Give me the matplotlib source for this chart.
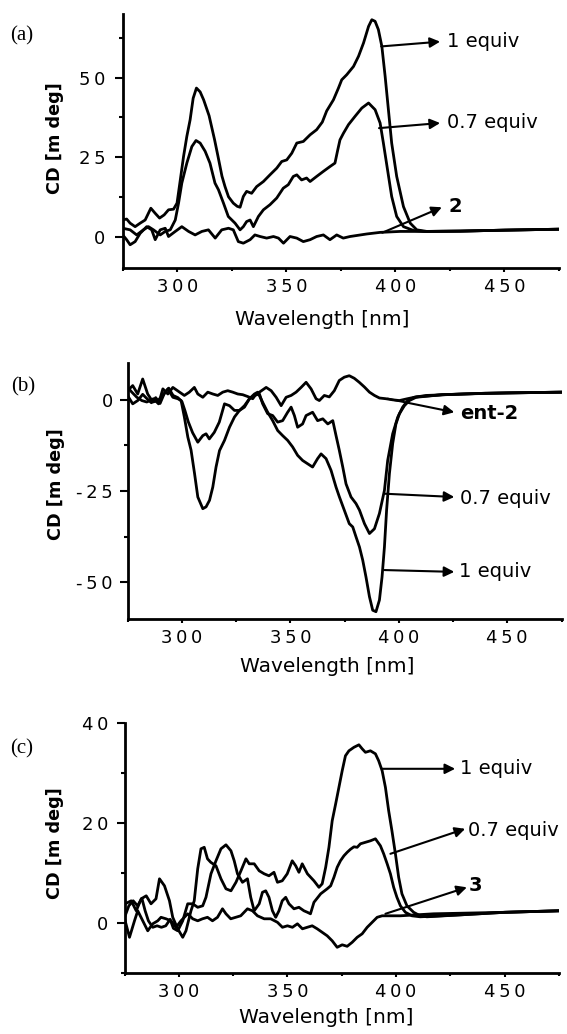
import numpy as np
import matplotlib
matplotlib.use("Agg")
import matplotlib.pyplot as plt
from matplotlib.ticker import MultipleLocator, FuncFormatter

# ---------------- data (wavelength nm, CD mdeg) ----------------
A_1EQ = [(275, 5.2), (276.8, 5.5), (278.4, 4.2), (280.7, 3.1), (283, 4.2), (285.3, 5.2), (287.9, 8.9),
         (289.9, 7.3), (291.9, 5.8), (294, 6.8), (296, 8.4), (298.3, 8.6), (299.9, 10.5), (301.4, 17.8),
         (302.9, 25.2), (304.4, 31.5), (305.9, 36.7), (307.3, 43.5), (308.8, 46.7), (310.5, 45.5),
         (312.1, 43), (314.6, 38), (317.1, 30.5), (318.6, 25.5), (320.5, 19), (321.9, 15.7), (323.5, 12.5),
         (325.7, 10.5), (327.5, 9.5), (328.8, 9.2), (330.3, 12.6), (331.8, 14.2), (334.1, 13.6),
         (336.4, 15.7), (339.5, 17.3), (342.5, 19.4), (345.6, 21.5), (347.9, 23.6), (350.2, 24.1),
         (352.5, 26.2), (354.8, 29.4), (357.8, 29.9), (360.9, 32), (363.9, 33.6), (366.5, 36),
         (368.5, 39.5), (371.6, 43), (373.9, 46.7), (375.4, 49.3), (377.7, 50.9), (380.8, 53.5),
         (383.1, 56.7), (385.4, 60.9), (387.7, 66.1), (389.2, 68.2), (390.7, 67.7), (392.2, 65.1),
         (393.8, 59.8), (395.3, 50.4), (396.8, 39.9), (398.3, 29.4), (400.6, 18.9), (403.7, 9.4),
         (406.8, 4.2), (409.8, 2.1), (414.4, 1.6), (430, 1.7), (450, 2.0), (475, 2.3)]

A_07EQ = [(275, 2.6), (278.4, 2.1), (281.4, 0.5), (284.5, 2.1), (286.8, 3.1), (289.1, 2.1), (292.2, 0.5),
          (294.5, 1.6), (296.8, 2.1), (299.1, 5.2), (300.6, 10.5), (302.1, 16.8), (304.4, 23.1),
          (306.7, 28.3), (308.6, 30.2), (310.5, 29.4), (312.8, 26.8), (315, 23.1), (317.3, 16.8),
          (318.9, 14.7), (321.2, 10.5), (323.4, 6.3), (326.5, 4.2), (328.8, 2.1), (330.3, 3.1),
          (331.8, 4.7), (333.4, 5.2), (334.9, 3.1), (337.2, 6.3), (339.5, 8.4), (342.5, 10), (345.6, 12.1),
          (348.6, 15.2), (350.9, 16.3), (353.2, 18.9), (354.8, 19.4), (357, 17.8), (359.3, 18.4),
          (360.9, 17.3), (363.9, 18.9), (367, 20.5), (370, 22), (372.3, 23.1), (373.5, 27), (374.6, 30.4),
          (376.2, 32.5), (378.5, 35.2), (381.5, 37.8), (384.6, 40.4), (387.7, 42), (390.7, 39.9),
          (393, 35.7), (394.5, 29.4), (396.4, 21), (398.3, 12.6), (400.6, 6.3), (403.7, 3.1), (408.3, 1.9),
          (412.9, 1.6), (430, 1.7), (450, 2.0), (475, 2.3)]

A_2 = [(275, 0.5), (276.8, -1), (278.4, -2.6), (280.7, -1.6), (283, 1), (286, 3.1), (288.3, 2.1),
       (289.9, -1), (292.2, 2.1), (294.5, 2.6), (296, 0), (299.1, 1.6), (302.1, 3.1), (305.2, 1.6),
       (308.2, 0.5), (311.3, 1.6), (314.3, 2.1), (317.4, -0.5), (320.4, 2.1), (323.5, 2.6), (325.7, 2.1),
       (328, -1.6), (330.3, -2.1), (333.4, -1), (335.6, 0.5), (338, 0), (341, -0.5), (344.1, 0),
       (346.4, -0.5), (348.7, -2.1), (351.7, 0), (354.8, -0.5), (357.8, -1.6), (360.9, -1), (363.9, 0),
       (367, 0.5), (370, -1), (373.1, 0.5), (376.1, -0.5), (379.2, 0), (386.9, 0.8), (393, 1.3),
       (402.2, 1.6), (414.4, 1.6), (430, 1.7), (450, 2.0), (475, 2.3)]

B_ENT2 = [(275, 3.4), (277, 2.1), (279.3, 0.7), (281.6, -0.2), (283.9, -0.6), (287, 0.3), (289.3, -1.1),
          (291.3, 3), (293.6, 1.6), (295.9, 3.4), (299, 2.1), (301.2, 1.2), (303.5, 2.1), (305.8, 3.4),
          (307.4, 1.6), (309.7, 0.7), (312, 2.1), (314.3, 1.6), (316.6, 1.2), (318.9, 2.1), (321.2, 2.5),
          (323.5, 2.1), (325.8, 1.6), (328.1, 1.4), (330.4, 0.9), (332.7, 0.3), (334.3, 1.6), (335.8, 2.1),
          (338.9, 3.4), (341.2, 2.5), (343.5, 0.7), (345.8, -1.6), (348.1, 0.7), (350.4, 1.2), (352.7, 2.1),
          (355, 3.4), (357.3, 4.8), (359.6, 3), (361.9, 0.3), (363.4, -0.2), (365.7, 1.2), (368, 0.8),
          (370.3, 2.5), (372.6, 5.3), (374.9, 6.2), (377.2, 6.6), (379.5, 5.9), (381.8, 4.8), (384.2, 3.5),
          (386.5, 2.1), (388.8, 1.2), (391.1, 0.5), (394.1, 0.3), (397.2, 0), (400.3, -0.2), (404, 0.3),
          (408, 0.8), (420, 1.4), (440, 1.8), (475, 2.1)]

B_07EQ = [(275, 1.2), (277.4, -1.1), (279.7, -0.2), (282, 1.5), (284, 0.3), (286, -0.8), (288, 0.6),
          (290, -1), (292, 1.8), (294, 3.2), (296, 1.2), (298.2, 0.6), (300.1, -0.5), (301.5, -3), (303, -6),
          (305, -9), (307.4, -11.6), (309.7, -9.8), (311.2, -9.3), (312.7, -10.7), (315, -8.9), (317.3, -6.1),
          (319.7, -1.1), (322, -1.6), (324.3, -2.9), (326.6, -2.9), (328.9, -2), (331.2, 0.3), (333.5, 1.2),
          (335.8, 1.6), (337.3, -1.1), (339.6, -3.8), (341.9, -4.3), (344.2, -6.1), (346.5, -5.7),
          (348.8, -3.4), (350.4, -2), (351.9, -4.3), (353.4, -7.5), (355.7, -6.6), (357.3, -4.3),
          (360.3, -3.4), (362.6, -5.7), (365, -5.2), (367.3, -6.6), (369.6, -5.7), (371.1, -9.8),
          (372.6, -13.8), (374.2, -18.4), (375.7, -23), (378, -26.6), (380.3, -28.4), (381.9, -30.2),
          (384.2, -33.9), (386.5, -36.6), (388.8, -35.3), (391.1, -31.1), (393.4, -24.8), (394.9, -16.6),
          (397.2, -9.3), (399.5, -4.8), (401.8, -2), (404.1, -0.2), (407.2, 0.7), (412.6, 1.2), (430, 1.6),
          (450, 1.9), (475, 2.1)]

B_1EQ = [(275, 2.5), (277.4, 3.9), (279.7, 1.6), (282, 5.7), (284.3, 1.6), (286.7, -0.6), (289, -0.2),
         (291.3, 1.2), (293.6, 3), (295.9, 0.7), (298.2, 0.3), (299.7, -0.2), (301.2, -4.7), (302.8, -10.2),
         (304.3, -13.8), (305.9, -20.2), (307.4, -26.6), (309.7, -29.8), (311.2, -29.3), (312.8, -27.5),
         (314.3, -23.9), (315.8, -18.4), (317.4, -13.9), (319.7, -11.1), (322, -7.5), (324.3, -4.7),
         (326.6, -2.9), (328.9, -1.6), (331.2, 0.3), (333.5, 1.6), (335, 2.1), (337.3, -0.7), (339.6, -3.4),
         (341.9, -5.7), (344.2, -8.4), (346.5, -9.8), (348.8, -11.1), (351.1, -12.9), (353.4, -15.2),
         (355.7, -16.6), (358, -17.5), (360.3, -18.4), (362.6, -16.1), (364.2, -14.8), (366.5, -16.1),
         (368.8, -19.3), (371.1, -23.9), (372.6, -26.5), (374.9, -30.2), (377.2, -33.9), (378.8, -34.8),
         (380.3, -37.5), (381.9, -40.3), (383.4, -43.9), (384.9, -48.5), (386.5, -53.9), (388, -57.6),
         (389.5, -58), (391.1, -54.8), (392.3, -48.5), (393.4, -40.3), (394.4, -30.2), (395.7, -20.2),
         (397.2, -12), (398.7, -6.6), (400.3, -3.8), (402.6, -1.6), (404.9, -0.2), (408, 0.7), (420, 1.4),
         (440, 1.8), (475, 2.1)]

C_1EQ = [(275.3, 3.9), (278.1, 4.5), (280.4, 2.5), (282.7, 4.9), (285, 5.5), (287.2, 3.9), (289.5, 4.9),
         (291.1, 8.9), (293.4, 7.5), (295.7, 4.5), (297.2, 1.2), (299.5, -1.1), (301.8, -2.8), (303.3, -1.5),
         (305.6, 2.5), (307.1, 4.5), (308.7, 10.9), (310.2, 14.9), (311.7, 15.2), (313.2, 12.9),
         (314.7, 12.2), (317.1, 11.5), (319.4, 8.9), (321.7, 6.9), (324, 6.5), (326.3, 8.2), (328.6, 10.5),
         (330.9, 12.9), (332.4, 11.9), (334.7, 11.9), (337, 10.5), (339.3, 9.9), (341.5, 9.5), (343.8, 10.2),
         (345.4, 8.2), (347.6, 8.5), (349.9, 9.9), (352.2, 12.5), (353.8, 11.5), (355.3, 10.2), (356.8, 11.9),
         (359.2, 9.9), (362.2, 8.5), (364.5, 7.2), (366, 7.9), (367.6, 11.2), (369.1, 15.2), (370.6, 20.5),
         (372.2, 23.9), (373.7, 27.2), (375.2, 30.5), (376.7, 33.5), (378.3, 34.5), (380.6, 35.2),
         (382.9, 35.7), (384.4, 34.9), (385.9, 34.2), (388.2, 34.5), (390.5, 33.9), (392, 32.5), (393.6, 30.5),
         (395.1, 27.2), (396.6, 22.5), (398.1, 18.5), (399.7, 13.9), (401.2, 9.2), (402.7, 5.9), (405, 3.5),
         (408.1, 2.2), (411.1, 1.5), (414.2, 1.3), (430, 1.7), (450, 2.2), (475, 2.5)]

C_07EQ = [(275.3, 1.5), (277, 3.5), (279, 4.5), (281, 3.5), (283, 5), (284.5, 2.5), (286, 0.5), (288, -0.8),
          (290, -0.5), (292, -0.8), (294, -0.5), (296, 0.8), (297.5, -1), (299.5, -1.5), (301.8, 0.5),
          (304.1, 3.9), (306.4, 3.9), (308.7, 3.2), (311, 3.5), (312.5, 5.2), (314.8, 9.9), (317.1, 12.5),
          (319.4, 14.9), (321.7, 15.7), (324, 14.5), (325.5, 12.5), (327, 9.9), (329.3, 8.2), (331.6, 8.9),
          (333.1, 5.2), (334.7, 2.5), (337, 3.9), (338.5, 6.2), (340, 6.5), (341.5, 5.2), (343.1, 2.5),
          (344.6, 1.2), (346.1, 2.5), (347.6, 4.5), (349.2, 5.2), (350.7, 3.9), (353, 2.9), (355.3, 3.2),
          (357.6, 2.5), (359.2, 2.2), (360.6, 1.9), (362.2, 4.2), (365.3, 5.9), (368.3, 6.9), (369.9, 7.5),
          (371.4, 9.2), (372.9, 11.2), (374.4, 12.5), (376, 13.5), (377.5, 14.2), (379, 14.8), (380.6, 15.3),
          (382.1, 15.2), (383.6, 15.9), (385.9, 16.2), (388.2, 16.5), (390.5, 16.9), (392.8, 15.5),
          (394.3, 13.9), (395.9, 11.9), (397.4, 9.9), (398.9, 7.2), (400.4, 5.2), (402, 3.5), (404.3, 2.2),
          (407.3, 1.5), (411.1, 1.3), (430, 1.7), (450, 2.2), (475, 2.5)]

C_3 = [(275.3, 0.5), (277.3, -2.8), (279.6, 0.5), (281.1, 2.5), (283.4, 0.5), (285.7, -1.5), (288, -0.1),
       (290.3, 0.5), (291.8, 1.2), (294.1, 0.9), (296.4, 0.5), (298.7, -0.8), (301, 0.5), (304.1, 1.9),
       (306.4, 0.9), (308.7, 0.5), (310.9, 0.9), (313.2, 1.2), (315.5, 0.5), (317.8, 1.2), (320.1, 2.9),
       (321.7, 1.9), (323.9, 0.9), (326.2, 1.2), (328.5, 1.5), (331.6, 2.9), (333.9, 2.5), (336.2, 1.5),
       (339.3, 0.9), (342.3, 0.9), (345.4, 0.2), (347.7, -0.8), (350, -0.5), (352.3, -0.8), (354.6, -0.1),
       (356.9, -1.1), (359.1, -0.8), (361.4, -0.5), (363.7, -1.1), (366, -1.8), (368.3, -2.5), (370.6, -3.5),
       (372.9, -4.8), (375.2, -4.3), (377.5, -4.6), (379.8, -3.8), (382.1, -2.8), (384.4, -2.1),
       (386.7, -0.8), (389, 0.2), (391.3, 1.2), (393.6, 1.5), (395.9, 1.5), (402, 1.5), (417.3, 1.9),
       (450, 2.2), (475, 2.5)]

PANEL_LABELS = ["(a)", "(b)", "(c)"]
X_LABEL = "Wavelength [nm]"
Y_LABEL = "CD [m deg]"

# ---------------- layout ----------------
W, H = 567, 1034
THIN = "\u2009"


def spaced(v, pos):
    s = str(int(round(v)))
    neg = s.startswith("-")
    body = THIN.join(s.lstrip("-"))
    return ("-" + THIN + body) if neg else body


def rect(left, right, top, bottom):
    return [left / W, 1 - bottom / H, (right - left) / W, (bottom - top) / H]


panels = [
    dict(series=[A_1EQ, A_07EQ, A_2], ylim=(-10, 70), ymaj=25, ymin=12.5,
         rect=rect(122.7, 559, 14, 268.3), lab_xy=(22, 36), ypad=7,
         xlab=(0.457, -0.200), ylab=(-0.155, 0.512),
         notes=[("1 equiv", False, (393.5, 59.8), (420.5, 61.3), (423.5, 61.2)),
                ("0.7 equiv", False, (392.5, 34.1), (420.5, 35.7), (423.5, 35.8)),
                ("2", True, (394.0, 1.2), (421.3, 9.2), (424.3, 9.3))]),
    dict(series=[B_ENT2, B_07EQ, B_1EQ], ylim=(-60, 10), ymaj=25, ymin=12.5,
         rect=rect(127.5, 561.5, 363.3, 619), lab_xy=(23, 387), ypad=5,
         xlab=(0.461, -0.184), ylab=(-0.165, 0.528),
         notes=[("ent-2", True, (394.9, 0.3), (425.6, -3.4), (428.3, -3.8)),
                ("0.7 equiv", False, (393.4, -25.7), (425.6, -26.6), (428.2, -27.0)),
                ("1 equiv", False, (393.4, -46.6), (425.6, -47.1), (427.9, -47.1))]),
    dict(series=[C_1EQ, C_07EQ, C_3], ylim=(-10, 40), ymaj=20, ymin=10,
         rect=rect(124.5, 559, 723.3, 973.3), lab_xy=(22, 749), ypad=6,
         xlab=(0.465, -0.177), ylab=(-0.160, 0.521),
         notes=[("1 equiv", False, (393.6, 30.9), (427.2, 30.9), (429.5, 30.9)),
                ("0.7 equiv", False, (397.4, 13.9), (431.8, 18.9), (433.3, 18.6)),
                ("3", True, (395.1, 1.9), (432.6, 7.2), (433.6, 7.5))]),
]

plt.rcParams["font.family"] = ["DejaVu Sans"]
fig = plt.figure(figsize=(W / 100, H / 100), dpi=100)

for lab, p in zip(PANEL_LABELS, panels):
    ax = fig.add_axes(p["rect"])
    for s in p["series"]:
        arr = np.array(s)
        ax.plot(arr[:, 0], arr[:, 1], color="black", lw=2.0, solid_joinstyle="round")
    ax.set_xlim(275, 475)
    ax.set_ylim(*p["ylim"])
    for side in ("top", "right"):
        ax.spines[side].set_visible(False)
    for side in ("left", "bottom"):
        ax.spines[side].set_linewidth(2.0)
    ax.xaxis.set_major_locator(MultipleLocator(50))
    ax.xaxis.set_minor_locator(MultipleLocator(25))
    ax.yaxis.set_major_locator(MultipleLocator(p["ymaj"]))
    ax.yaxis.set_minor_locator(MultipleLocator(p["ymin"]))
    ax.xaxis.set_major_formatter(FuncFormatter(spaced))
    ax.yaxis.set_major_formatter(FuncFormatter(spaced))
    ax.tick_params(axis="x", which="major", length=3.2, width=1.5, pad=4, labelsize=13)
    ax.tick_params(axis="x", which="minor", length=2.0, width=1.5)
    ax.tick_params(axis="y", which="major", length=5.5, width=1.5, pad=p["ypad"], labelsize=13)
    ax.tick_params(axis="y", which="minor", length=3.0, width=1.5)

    ax.set_xlabel(X_LABEL, fontsize=14.5, va="center")
    ax.xaxis.set_label_coords(*p["xlab"])
    ax.set_ylabel(Y_LABEL, fontsize=12.7, fontweight="bold", va="center")
    ax.yaxis.set_label_coords(*p["ylab"])

    for text, bold, start, head, tpos in p["notes"]:
        ax.annotate("", xy=head, xytext=start,
                    arrowprops=dict(arrowstyle="-|>", color="black", lw=1.5,
                                    mutation_scale=15, shrinkA=0, shrinkB=0),
                    annotation_clip=False)
        ax.text(tpos[0], tpos[1], text, fontsize=14, ha="left", va="center",
                fontweight="bold" if bold else "normal", clip_on=False)

    fig.text(p["lab_xy"][0] / W, 1 - p["lab_xy"][1] / H, lab, fontsize=15,
             family=["Liberation Serif", "DejaVu Serif"], ha="center", va="center")

fig.savefig("out.png", dpi=100)
